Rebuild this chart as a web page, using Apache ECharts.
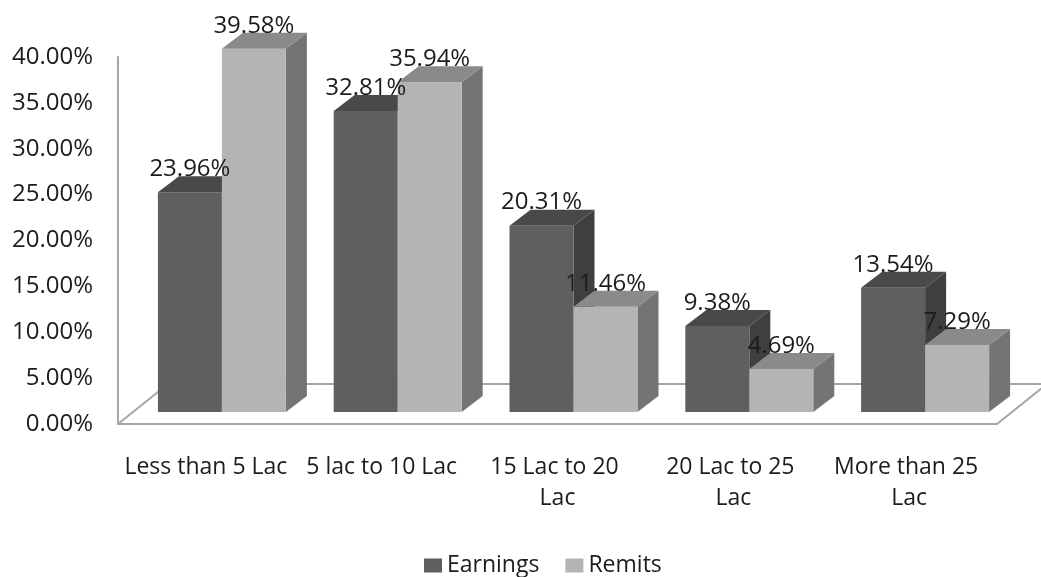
<!DOCTYPE html>
<html>
<head>
<meta charset="utf-8">
<script src="https://cdn.jsdelivr.net/npm/echarts@6/dist/echarts.min.js"></script>
<style>
  html, body { margin: 0; padding: 0; background: #fff; }
  #chart { width: 1041px; height: 577px; }
</style>
</head>
<body>
<div id="chart"></div>
<script>
const categories = ['Less than 5 Lac', '5 lac to 10 Lac', '15 Lac to 20 Lac', '20 Lac to 25 Lac', 'More than 25 Lac']
const earnings = [23.96, 32.81, 20.31, 9.38, 13.54]
const remits = [39.58, 35.94, 11.46, 4.69, 7.29]
const yTicks = [0, 5, 10, 15, 20, 25, 30, 35, 40]

const font = '"Open Sans", sans-serif'
const textColor = '#1c1c1c'
const frameColor = '#a6a6a6'

// face colours: front, top, side
const palettes = [
  { front: '#5f5f5f', top: '#494949', side: '#3f3f3f' },
  { front: '#b4b4b4', top: '#8a8a8a', side: '#747474' },
]

const chart = echarts.init(document.getElementById('chart'))

const makeRender = (seriesIdx) => (params, api) => {
  const pal = palettes[seriesIdx]
  const base = api.coord([api.value(0), 0])
  const top = api.coord([api.value(0), api.value(1)])
  const band = api.size([1, 0])[0]
  const barW = band * 0.364
  const shiftX = band * 0.091
  const shiftY = -12
  const dx = 21
  const dy = -16
  const x0 = seriesIdx === 0 ? base[0] + shiftX - barW : base[0] + shiftX
  const yB = base[1] + shiftY
  const yT = top[1] + shiftY
  return {
    type: 'group',
    children: [
      {
        type: 'polygon',
        shape: { points: [[x0 + barW, yT], [x0 + barW + dx, yT + dy], [x0 + barW + dx, yB + dy], [x0 + barW, yB]] },
        style: { fill: pal.side },
      },
      {
        type: 'rect',
        shape: { x: x0, y: yT, width: barW, height: yB - yT },
        style: { fill: pal.front },
      },
      {
        type: 'polygon',
        shape: { points: [[x0, yT], [x0 + barW, yT], [x0 + barW + dx, yT + dy], [x0 + dx, yT + dy]] },
        style: { fill: pal.top },
      },
      {
        type: 'text',
        z2: 100,
        style: {
          x: x0 + barW / 2,
          y: yT - 23,
          text: api.value(1).toFixed(2) + '%',
          align: 'center',
          verticalAlign: 'middle',
          fontFamily: font,
          fontSize: 24,
          fill: textColor,
        },
      },
    ],
  }
}

chart.setOption({
  animation: false,
  backgroundColor: '#fff',
  grid: {
    left: 118,
    right: 44,
    top: 57,
    bottom: 153,
  },
  legend: {
    top: 549,
    left: 419,
    itemWidth: 18,
    itemHeight: 14,
    itemGap: 26,
    icon: 'rect',
    textStyle: { fontFamily: font, fontSize: 23, color: textColor },
    data: ['Earnings', 'Remits'],
  },
  xAxis: {
    type: 'category',
    data: categories,
    axisLine: { lineStyle: { color: frameColor, width: 2 } },
    axisTick: { show: false },
    axisLabel: {
      margin: 28,
      interval: 0,
      width: 168,
      overflow: 'break',
      lineHeight: 31,
      fontFamily: font,
      fontSize: 23,
      color: textColor,
    },
  },
  yAxis: {
    type: 'value',
    min: yTicks[0],
    max: yTicks[yTicks.length - 1],
    interval: 5,
    axisLine: { show: true, lineStyle: { color: frameColor, width: 2 } },
    axisTick: { show: false },
    splitLine: { show: false },
    axisLabel: {
      margin: 25,
      fontFamily: font,
      fontSize: 24,
      color: textColor,
      formatter: (v) => v.toFixed(2) + '%',
    },
  },
  series: [
    {
      name: 'Earnings',
      type: 'custom',
      itemStyle: { color: palettes[0].front },
      renderItem: makeRender(0),
      encode: { x: 0, y: 1 },
      data: earnings.map((v, i) => [i, v]),
      z: 2,
    },
    {
      name: 'Remits',
      type: 'custom',
      itemStyle: { color: palettes[1].front },
      renderItem: makeRender(1),
      encode: { x: 0, y: 1 },
      data: remits.map((v, i) => [i, v]),
      z: 2,
    },
  ],
})

// floor outline of the 3D plot area (back edge + side diagonals)
const p0 = chart.convertToPixel({ gridIndex: 0 }, [0, 0])
const band = chart.convertToPixel({ gridIndex: 0 }, [1, 0])[0] - p0[0]
const floorL = p0[0] - band / 2
const floorR = floorL + band * categories.length
const floorY = p0[1]
const depthX = 50
const depthY = -40
chart.setOption({
  graphic: [
    {
      type: 'polyline',
      z: 0,
      silent: true,
      shape: {
        points: [
          [floorL, floorY],
          [floorL + depthX, floorY + depthY],
          [floorR + depthX, floorY + depthY],
          [floorR, floorY],
        ],
      },
      style: { stroke: frameColor, lineWidth: 2, fill: null },
    },
  ],
})

window.addEventListener('resize', () => chart.resize())
</script>
</body>
</html>
